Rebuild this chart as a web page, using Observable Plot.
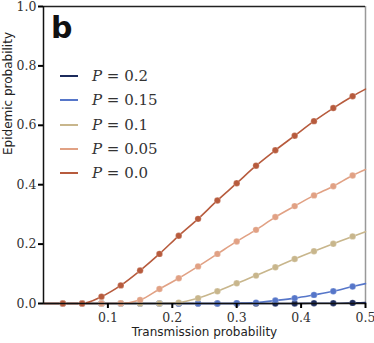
<!DOCTYPE html>
<html><head><meta charset="utf-8">
<script src="https://cdn.jsdelivr.net/npm/d3@7"></script>
<script src="https://cdn.jsdelivr.net/npm/@observablehq/plot@0.6"></script>
<style>
html,body{margin:0;padding:0;background:#fff;}
#wrap{position:relative;width:374px;height:343px;}
#legend{position:absolute;left:60px;top:64px;font-family:"DejaVu Serif","Liberation Serif",serif;font-size:15px;color:#333;}
#legend .row{display:flex;align-items:center;height:24.3px;}
#legend .sw{width:18px;height:0;border-top:2px solid;margin-right:14px;}
#legend i{font-style:italic;}
#tag{position:absolute;left:51px;top:10px;font-family:"DejaVu Sans",sans-serif;font-weight:bold;font-size:30px;color:#111;}
</style></head>
<body><div id="wrap"><div id="legend"></div><div id="tag">b</div></div>
<script>
const trans = [0.03,0.06,0.09,0.12,0.15,0.18,0.21,0.24,0.27,0.30,0.33,0.36,0.39,0.42,0.45,0.48];
const pLabels = ["0.2","0.15","0.1","0.05","0.0"];
const colors = ["#1c2b5c","#5676c9","#c8b68c","#e1a184","#b75b3d"];
const p20 = [0,0,0,0,0,0,0,0,0,0,0,0,0,0.001,0.001,0.002];
const p15 = [0,0,0,0,0,0,0,0,0,0.001,0.003,0.010,0.018,0.029,0.041,0.057];
const p10 = [0,0,0,0,0,0,0.003,0.018,0.041,0.068,0.094,0.122,0.150,0.176,0.201,0.226];
const p05 = [0,0,0,0.001,0.012,0.049,0.085,0.125,0.167,0.209,0.248,0.291,0.328,0.364,0.395,0.431];
const p00 = [0,0,0.023,0.061,0.111,0.167,0.228,0.285,0.347,0.405,0.464,0.516,0.565,0.614,0.658,0.698];
const lineStart = [0,0,0,0,0];
const lineEnd = [0.003,0.067,0.242,0.451,0.722];
const xTicks = [0.1,0.2,0.3,0.4,0.5];
const yTicks = [0.0,0.2,0.4,0.6,0.8,1.0];

const series = [p20,p15,p10,p05,p00];
const pts = [], lines = [];
series.forEach((vals,i)=>{
  lines.push({s:i,x:0,y:lineStart[i]});
  vals.forEach((v,j)=>{pts.push({s:i,x:trans[j],y:v}); lines.push({s:i,x:trans[j],y:v});});
  lines.push({s:i,x:0.5,y:lineEnd[i]});
});

const serif = "'DejaVu Serif','Liberation Serif',serif";
const chart = Plot.plot({
  width:374, height:343,
  marginLeft:43, marginRight:9, marginTop:6, marginBottom:40,
  x:{domain:[0,0.5]},
  y:{domain:[0,1]},
  style:{background:"#fff"},
  marks:[
    Plot.ruleX([0.5],{stroke:"#999",strokeWidth:1.5}),
    Plot.ruleY([1],{stroke:"#222",strokeWidth:1.5}),
    Plot.line(lines,{x:"x",y:"y",z:"s",stroke:d=>colors[d.s],strokeWidth:1.6,curve:"monotone-x"}),
    Plot.dot(pts,{x:"x",y:"y",fill:d=>colors[d.s],stroke:"#fff",strokeWidth:0.4,strokeOpacity:0.6,r:3.2}),
    Plot.ruleX([0],{stroke:"#111",strokeWidth:1.5}),
    Plot.ruleY([0],{stroke:"#111",strokeWidth:1.5}),
    Plot.axisX({ticks:xTicks,tickFormat:d3.format(".1f"),tickSize:5,strokeWidth:2,tickPadding:5,fontSize:12.5,fontFamily:serif,fill:"#333",label:null}),
    Plot.axisY({ticks:yTicks,tickFormat:d3.format(".1f"),tickSize:5,strokeWidth:2,tickPadding:2,fontSize:12.5,fontFamily:serif,fill:"#333",label:null}),
    Plot.text(["Transmission probability"],{frameAnchor:"bottom",dy:32,fontSize:12,fontFamily:"'DejaVu Sans',sans-serif",fill:"#222"}),
    Plot.text(["Epidemic probability"],{frameAnchor:"left",dx:-35,rotate:-90,fontSize:12,fontFamily:"'DejaVu Sans',sans-serif",fill:"#222"})
  ]
});
const wrap = document.getElementById("wrap");
wrap.insertBefore(chart, wrap.firstChild);
chart.style.position="absolute"; chart.style.left="0"; chart.style.top="0";
const leg = document.getElementById("legend");
pLabels.forEach((p,i)=>{
  const r=document.createElement("div"); r.className="row";
  r.innerHTML=`<span class="sw" style="border-color:${colors[i]}"></span><span><i>P</i> = ${p}</span>`;
  leg.appendChild(r);
});
</script></body></html>
